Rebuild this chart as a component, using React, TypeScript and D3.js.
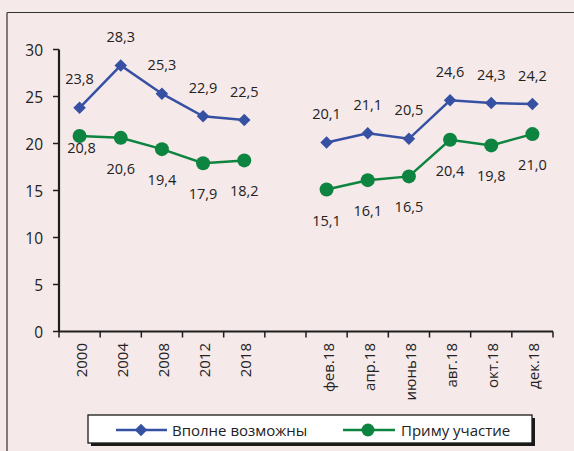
import React from "react";
import * as d3 from "d3";

const categories = ["2000", "2004", "2008", "2012", "2018", "", "фев.18", "апр.18", "июнь18", "авг.18", "окт.18", "дек.18"];
const seriesNames = ["Вполне возможны", "Приму участие"];
const vpolne: (number | null)[] = [23.8, 28.3, 25.3, 22.9, 22.5, null, 20.1, 21.1, 20.5, 24.6, 24.3, 24.2];
const primu: (number | null)[] = [20.8, 20.6, 19.4, 17.9, 18.2, null, 15.1, 16.1, 16.5, 20.4, 19.8, 21.0];
const yTicks = [0, 5, 10, 15, 20, 25, 30];

const W = 574;
const H = 451;
const BLUE = "#3651a3";
const GREEN = "#0d843f";
const BG = "#f6e9e9";
const AXIS = "#1e1e1e";
const FONT = "'Open Sans', sans-serif";

const fmt = (v: number) => v.toFixed(1).replace(".", ",");

export default function App() {
  const x = d3.scaleBand<string>().domain(categories.map((c, i) => i + "")).range([59, 553]).padding(0);
  const y = d3.scaleLinear().domain([0, 30]).range([331.5, 49.5]);
  const cx = (i: number) => (x(i + "") as number) + x.bandwidth() / 2;

  const segments = (vals: (number | null)[]) => {
    const line = d3
      .line<number | null>()
      .defined((d) => d !== null)
      .x((_, i) => cx(i))
      .y((d) => y(d as number));
    return line(vals) || "";
  };

  const diamond = d3.symbol().type(d3.symbolDiamond2 || d3.symbolDiamond).size(100)();
  const boundaries = d3.range(categories.length + 1).map((i) => 59 + i * x.bandwidth());

  return (
    <svg width={W} height={H} style={{ position: "absolute", left: 0, top: 0, background: BG }}>
      <rect x={0} y={0} width={W} height={H} fill={BG} />
      {/* outer frame */}
      <line x1={7} y1={12.5} x2={W} y2={12.5} stroke="#333" strokeWidth={1.2} />
      <line x1={7} y1={12.5} x2={7} y2={H} stroke="#333" strokeWidth={1.2} />

      {/* y axis */}
      <line x1={59} y1={y(30)} x2={59} y2={y(0)} stroke={AXIS} strokeWidth={2.2} />
      {yTicks.map((t) => (
        <g key={t}>
          <line x1={53} x2={59} y1={y(t)} y2={y(t)} stroke={AXIS} strokeWidth={1.5} />
          <text x={43} y={y(t)} textAnchor="end" dominantBaseline="central" fontFamily={FONT} fontSize={15.5} fill="#222">
            {t}
          </text>
        </g>
      ))}

      {/* x axis */}
      <line x1={59} y1={y(0)} x2={553} y2={y(0)} stroke={AXIS} strokeWidth={2.2} />
      {boundaries.map((b, i) => (
        <line key={i} x1={b} x2={b} y1={y(0)} y2={y(0) + 6} stroke={AXIS} strokeWidth={1.5} />
      ))}
      {categories.map((c, i) => (
        <text
          key={i}
          transform={`translate(${cx(i) + 1},343) rotate(-90)`}
          textAnchor="end"
          dominantBaseline="central"
          fontFamily={FONT}
          fontSize={15}
          fill="#222"
        >
          {c}
        </text>
      ))}

      {/* lines */}
      <path d={segments(vpolne)} fill="none" stroke={BLUE} strokeWidth={2.5} />
      <path d={segments(primu)} fill="none" stroke={GREEN} strokeWidth={2.5} />

      {vpolne.map((v, i) =>
        v === null ? null : (
          <g key={"b" + i}>
            <path d={diamond} transform={`translate(${cx(i)},${y(v)})`} fill={BLUE} />
            <text x={cx(i)} y={y(v) - 29} textAnchor="middle" dominantBaseline="central" fontFamily={FONT} fontSize={14.5} fill="#222">
              {fmt(v)}
            </text>
          </g>
        )
      )}
      {primu.map((v, i) =>
        v === null ? null : (
          <g key={"g" + i}>
            <circle cx={cx(i)} cy={y(v)} r={7} fill={GREEN} />
            <text
              x={cx(i) + (i === 0 ? 2 : 0)}
              y={y(v) + (i === 0 ? 11.5 : 30.5)}
              textAnchor="middle"
              dominantBaseline="central"
              fontFamily={FONT}
              fontSize={14.5}
              fill="#222"
            >
              {fmt(v)}
            </text>
          </g>
        )
      )}

      {/* legend */}
      <rect x={91} y={418} width={444} height={28} fill="#1a1a1a" />
      <rect x={88} y={415} width={444} height={28} fill="#fff" stroke="#1a1a1a" strokeWidth={1.3} />
      <line x1={116} x2={167} y1={430} y2={430} stroke={BLUE} strokeWidth={2.5} />
      <path d={diamond} transform="translate(141,430)" fill={BLUE} />
      <text x={172} y={430} dominantBaseline="central" fontFamily={FONT} fontSize={15} fill="#222">
        {seriesNames[0]}
      </text>
      <line x1={343} x2={395} y1={430} y2={430} stroke={GREEN} strokeWidth={2.5} />
      <circle cx={368} cy={430} r={6.5} fill={GREEN} />
      <text x={401} y={430} dominantBaseline="central" fontFamily={FONT} fontSize={15} fill="#222">
        {seriesNames[1]}
      </text>
    </svg>
  );
}
